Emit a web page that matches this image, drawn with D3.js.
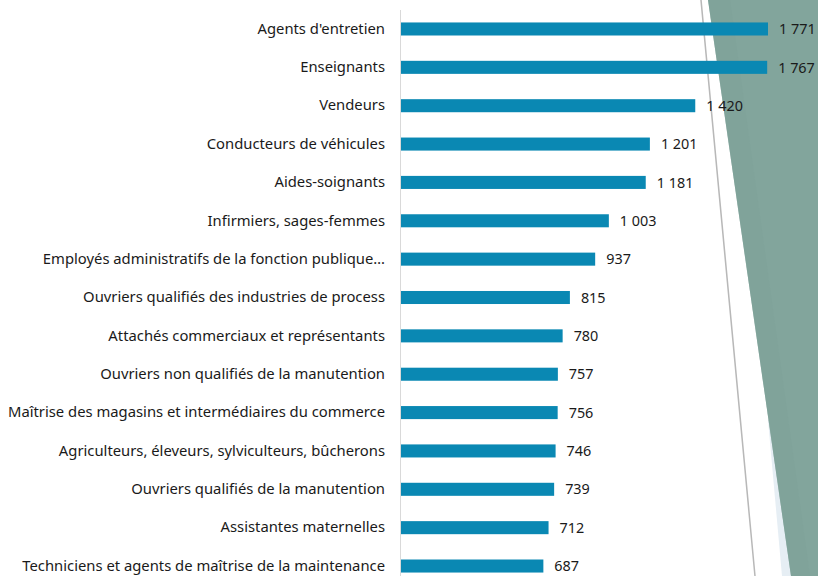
<!DOCTYPE html>
<html>
<head>
    <meta charset="utf-8" />
    <title>Métiers</title>
    <style>
        html, body {
            margin: 0;
            padding: 0;
            background-color: #fff;
            font-family: 'Noto Sans', sans-serif;
        }
        svg { display: block; }
    </style>
</head>
<body>
    <div class="canvas"></div>
    <script src="https://d3js.org/d3.v7.min.js"></script>
    <script>
        // data
        var categories = [
            "Agents d'entretien",
            "Enseignants",
            "Vendeurs",
            "Conducteurs de véhicules",
            "Aides-soignants",
            "Infirmiers, sages-femmes",
            "Employés administratifs de la fonction publique…",
            "Ouvriers qualifiés des industries de process",
            "Attachés commerciaux et représentants",
            "Ouvriers non qualifiés de la manutention",
            "Maîtrise des magasins et intermédiaires du commerce",
            "Agriculteurs, éleveurs, sylviculteurs, bûcherons",
            "Ouvriers qualifiés de la manutention",
            "Assistantes maternelles",
            "Techniciens et agents de maîtrise de la maintenance"
        ];
        var values = [1771, 1767, 1420, 1201, 1181, 1003, 937, 815, 780, 757, 756, 746, 739, 712, 687];

        var width = 818, height = 576;
        var left = 401;

        var svg = d3.select(".canvas")
                    .append("svg")
                    .attr("width", width)
                    .attr("height", height);

        // slide decoration on the right
        var deco = svg.append("g");
        deco.append("polygon")
            .attr("points", "768,420 818,420 818,576 782,576")
            .attr("fill", "#e6eef4");
        deco.append("polygon")
            .attr("points", "708,0 818,0 818,576 791,576")
            .attr("fill", "#82a59c");
        deco.append("polygon")
            .attr("points", "708,0 730,0 810,576 791,576")
            .attr("fill", "#7fa299")
            .attr("opacity", 0.6);
        deco.append("line")
            .attr("x1", 701).attr("y1", 0)
            .attr("x2", 755).attr("y2", 576)
            .attr("stroke", "#b8b8b8")
            .attr("stroke-width", 1.5);

        var x = d3.scaleLinear()
            .domain([0, 1771])
            .range([left, 768]);

        var y = d3.scaleBand()
            .domain(categories)
            .range([9.8, 585.2])
            .paddingInner(0.66)
            .paddingOuter(0.33);

        var fmt = d3.formatLocale({decimal: ",", thousands: "\u00a0", grouping: [3], currency: ["", " €"]}).format(",d");

        // category axis
        var yAxis = d3.axisLeft(y).tickSize(0).tickPadding(16);
        var ga = svg.append("g")
            .attr("transform", "translate(" + left + ",0)")
            .call(yAxis);
        ga.select(".domain")
            .attr("stroke", "#d9d9d9")
            .attr("d", "M-0.5,10V576");
        ga.selectAll("text")
            .attr("font-family", "'Noto Sans', sans-serif")
            .attr("font-size", 14.8)
            .attr("fill", "#1a1a1a");

        var rows = d3.zip(categories, values);

        svg.append("g").selectAll("rect")
            .data(rows)
            .join("rect")
            .attr("x", x(0))
            .attr("y", function(d) { return y(d[0]); })
            .attr("width", function(d) { return x(d[1]) - x(0); })
            .attr("height", y.bandwidth())
            .attr("fill", "#0a88b3");

        svg.append("g").selectAll("text")
            .data(rows)
            .join("text")
            .attr("x", function(d) { return x(d[1]) + 11; })
            .attr("y", function(d) { return y(d[0]) + y.bandwidth() / 2; })
            .attr("dy", "0.36em")
            .attr("font-family", "'Noto Sans', sans-serif")
            .attr("font-size", 14.4)
            .attr("fill", "#1a1a1a")
            .text(function(d) { return fmt(d[1]); });
    </script>
</body>
</html>
